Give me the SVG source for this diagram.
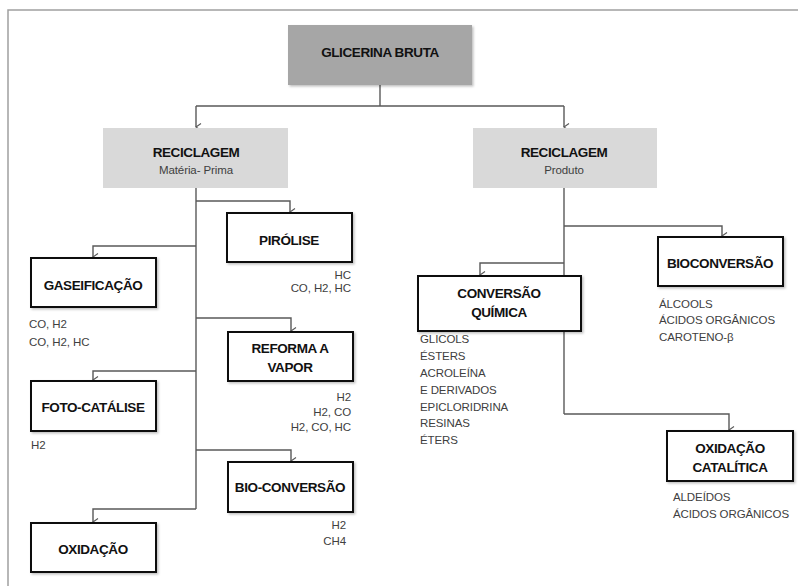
<svg xmlns="http://www.w3.org/2000/svg" width="798" height="586" viewBox="0 0 798 586">
<defs>
<marker id="arr" markerWidth="10" markerHeight="8" refX="4" refY="7" orient="auto-start-reverse" markerUnits="userSpaceOnUse" viewBox="0 0 8 8">
<path d="M0.5,2 L4,7 L7.5,2" fill="none" stroke="#595959" stroke-width="1.1"/>
</marker>
<filter id="sh" x="-10%" y="-10%" width="130%" height="130%">
<feDropShadow dx="1.5" dy="1.5" stdDeviation="1" flood-color="#000" flood-opacity="0.25"/>
</filter>
<style>
.t{font-family:"Liberation Sans",Arial,sans-serif;font-weight:bold;font-size:13.5px;fill:#111;text-anchor:middle;letter-spacing:-0.4px}
.s{font-family:"Liberation Sans",Arial,sans-serif;font-size:11.5px;fill:#404040;letter-spacing:-0.1px}
.c{text-anchor:middle}
.r{text-anchor:end}
.box{fill:#fff;stroke:#111;stroke-width:2;filter:url(#sh)}
.con path{fill:none;stroke:#595959;stroke-width:1.4}
.a{marker-end:url(#arr)}
</style>
</defs>
<rect width="798" height="586" fill="#fff"/>
<path d="M8,586 V10 H798" fill="none" stroke="#a0a0a0" stroke-width="1.5"/>

<g id="connectors" class="con">
<path d="M380,85 V106"/>
<path d="M196,106 H564"/>
<path class="a" d="M196,106 V127"/>
<path class="a" d="M564,106 V127"/>
<path d="M196,188 V509"/>
<path class="a" d="M196,201 H290 V212"/>
<path class="a" d="M196,246 H93 V257"/>
<path class="a" d="M196,318 H291 V331"/>
<path class="a" d="M196,371 H93 V380"/>
<path class="a" d="M196,450 H291 V461"/>
<path class="a" d="M196,509 H93 V522"/>
<path d="M564,188 V414"/>
<path class="a" d="M564,226 H722 V236"/>
<path class="a" d="M564,263 H480 V275"/>
<path class="a" d="M564,414 H729 V430"/>
</g>

<g id="glicerina">
<rect x="288" y="25" width="184" height="60" fill="#a6a6a6" filter="url(#sh)"/>
<text class="t" x="380" y="57">GLICERINA BRUTA</text>
</g>

<g id="reciclagem-mp">
<rect x="103" y="128" width="185" height="60" fill="#d9d9d9"/>
<text class="t" x="196" y="157">RECICLAGEM</text>
<text class="s c" x="196" y="174">Matéria- Prima</text>
</g>

<g id="reciclagem-prod">
<rect x="473" y="128" width="184" height="60" fill="#d9d9d9"/>
<text class="t" x="564" y="157">RECICLAGEM</text>
<text class="s c" x="564" y="174">Produto</text>
</g>

<g id="pirolise">
<rect class="box" x="227" y="213" width="125" height="49"/>
<text class="t" x="289" y="245">PIRÓLISE</text>
<text class="s r" x="351" y="279">HC</text>
<text class="s r" x="351" y="292">CO, H2, HC</text>
</g>

<g id="gaseificacao">
<rect class="box" x="31" y="258" width="125" height="49"/>
<text class="t" x="93" y="290">GASEIFICAÇÃO</text>
<text class="s" x="29" y="328">CO, H2</text>
<text class="s" x="29" y="346">CO, H2, HC</text>
</g>

<g id="reforma">
<rect class="box" x="228" y="332" width="125" height="49"/>
<text class="t" x="290" y="353">REFORMA A</text>
<text class="t" x="290" y="372">VAPOR</text>
<text class="s r" x="351" y="401">H2</text>
<text class="s r" x="351" y="416">H2, CO</text>
<text class="s r" x="351" y="431">H2, CO,  HC</text>
</g>

<g id="fotocatalise">
<rect class="box" x="31" y="381" width="125" height="50"/>
<text class="t" x="93" y="412">FOTO-CATÁLISE</text>
<text class="s" x="31" y="449">H2</text>
</g>

<g id="bioconversao-mp">
<rect class="box" x="228" y="462" width="125" height="50"/>
<text class="t" x="290" y="492">BIO-CONVERSÃO</text>
<text class="s r" x="346" y="529">H2</text>
<text class="s r" x="346" y="545">CH4</text>
</g>

<g id="oxidacao">
<rect class="box" x="31" y="523" width="125" height="49"/>
<text class="t" x="93" y="554">OXIDAÇÃO</text>
</g>

<g id="bioconversao-prod">
<rect class="box" x="658" y="237" width="125" height="49"/>
<text class="t" x="720" y="268">BIOCONVERSÃO</text>
<text class="s" x="659" y="308">ÁLCOOLS</text>
<text class="s" x="659" y="324">ÁCIDOS ORGÂNICOS</text>
<text class="s" x="659" y="341">CAROTENO-β</text>
</g>

<g id="conversao-quimica">
<rect class="box" x="418" y="276" width="163" height="55"/>
<text class="t" x="499" y="298">CONVERSÃO</text>
<text class="t" x="499" y="317">QUÍMICA</text>
<text class="s" x="420" y="343">GLICOLS</text>
<text class="s" x="420" y="360">ÉSTERS</text>
<text class="s" x="420" y="377">ACROLEÍNA</text>
<text class="s" x="420" y="394">E DERIVADOS</text>
<text class="s" x="420" y="411">EPICLORIDRINA</text>
<text class="s" x="420" y="427">RESINAS</text>
<text class="s" x="420" y="444">ÉTERS</text>
</g>

<g id="oxidacao-catalitica">
<rect class="box" x="667" y="431" width="126" height="50"/>
<text class="t" x="730" y="453">OXIDAÇÃO</text>
<text class="t" x="730" y="472">CATALÍTICA</text>
<text class="s" x="673" y="501">ALDEÍDOS</text>
<text class="s" x="673" y="518">ÁCIDOS ORGÂNICOS</text>
</g>
</svg>
